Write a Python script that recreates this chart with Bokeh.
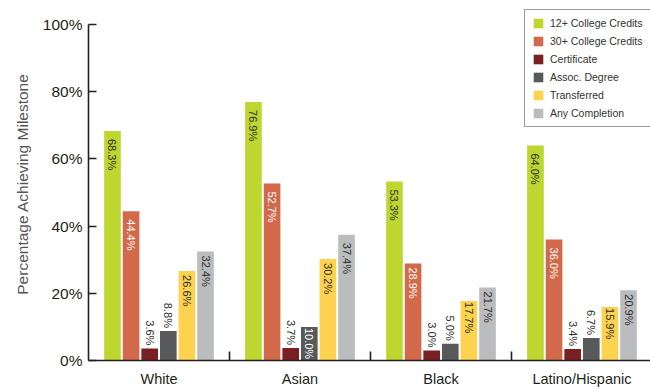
import math

from bokeh.core.properties import value
from bokeh.embed import file_html
from bokeh.models import ColumnDataSource, FixedTicker, PrintfTickFormatter
from bokeh.plotting import figure
from bokeh.resources import INLINE

# Milestone rates (percent) by group
groups = ["White", "Asian", "Black", "Latino/Hispanic"]
series = [
    "12+ College Credits",
    "30+ College Credits",
    "Certificate",
    "Assoc. Degree",
    "Transferred",
    "Any Completion",
]
credits_12 = [68.3, 76.9, 53.3, 64.0]
credits_30 = [44.4, 52.7, 28.9, 36.0]
certificate = [3.6, 3.7, 3.0, 3.4]
assoc_degree = [8.8, 10.0, 5.0, 6.7]
transferred = [26.6, 30.2, 17.7, 15.9]
any_completion = [32.4, 37.4, 21.7, 20.9]
y_ticks = [0, 20, 40, 60, 80, 100]

values = [credits_12, credits_30, certificate, assoc_degree, transferred, any_completion]
colors = ["#BED630", "#D2694A", "#7A1F24", "#58595B", "#FDD24F", "#BBBCBE"]
# colour of a value label printed inside its bar
inside_text = ["#2E2E2E", "#FFFFFF", "#FFFFFF", "#FFFFFF", "#2E2E2E", "#2E2E2E"]

FONT = "Liberation Sans"
INK = "#231F20"

pitch = 0.132
bar_w = 0.118

# a little headroom above 100% so the legend can sit higher than the axis top
p = figure(
    width=650,
    height=389,
    x_range=(0, 3.986),
    y_range=(0, 105.04),
    output_backend="svg",
    toolbar_location=None,
    min_border_left=88,
    min_border_right=0,
    min_border_top=7,
    min_border_bottom=28,
)
p.outline_line_color = None
p.xgrid.visible = False
p.ygrid.visible = False
p.background_fill_color = "white"
p.border_fill_color = "white"

inside = {"x": [], "y": [], "text": [], "color": [], "pad": []}
above = {"x": [], "y": [], "text": []}

for k, (name, vals, col) in enumerate(zip(series, values, colors)):
    xs = [i + 0.5 + (k - 2.5) * pitch for i in range(len(groups))]
    p.vbar(x=xs, top=vals, width=bar_w, fill_color=col, line_color=None,
           legend_label=name)
    for x, v in zip(xs, vals):
        label = f"{v:.1f}%"
        if v < 9.5:
            above["x"].append(x)
            above["y"].append(v)
            above["text"].append(label)
        else:
            inside["x"].append(x)
            inside["y"].append(v)
            inside["text"].append(label)
            inside["color"].append(inside_text[k])
            inside["pad"].append(8 if v >= 35 else (4 if v >= 20 else 1))

# value labels, rotated to read downwards
p.text(x="x", y="y", text="text", source=ColumnDataSource(inside),
       angle=-math.pi / 2, text_align="left", text_baseline="middle",
       y_offset="pad", text_color="color", text_font=value(FONT),
       text_font_size="11px")
p.text(x="x", y="y", text="text", source=ColumnDataSource(above),
       angle=-math.pi / 2, text_align="right", text_baseline="middle",
       y_offset=-3, text_color="#2E2E2E", text_font=value(FONT),
       text_font_size="11px")

# y axis
ya = p.yaxis[0]
ya.ticker = FixedTicker(ticks=y_ticks)
ya.bounds = (0, 100)
ya.formatter = PrintfTickFormatter(format="%d%%")
ya.axis_line_color = INK
ya.axis_line_width = 1.6
ya.major_tick_in = 8
ya.major_tick_out = 0
ya.major_tick_line_color = INK
ya.major_tick_line_width = 1.6
ya.minor_tick_line_color = None
ya.major_label_standoff = 6
ya.major_label_text_font = FONT
ya.major_label_text_font_size = "15.5px"
ya.major_label_text_color = INK
ya.axis_label = "Percentage Achieving Milestone"
ya.axis_label_text_font = FONT
ya.axis_label_text_font_size = "15.5px"
ya.axis_label_text_font_style = "normal"
ya.axis_label_text_color = "#555555"
ya.axis_label_standoff = 9

# x axis: group names centred, short separators between groups
xa = p.xaxis[0]
xa.ticker = FixedTicker(ticks=[i + 0.5 for i in range(len(groups))],
                        minor_ticks=list(range(1, len(groups) + 1)))
xa.major_label_overrides = {i + 0.5: g for i, g in enumerate(groups)}
xa.axis_line_color = INK
xa.axis_line_width = 1.6
xa.major_tick_line_color = None
xa.major_tick_in = 0
xa.major_tick_out = 0
xa.minor_tick_in = 9
xa.minor_tick_out = 0
xa.minor_tick_line_color = INK
xa.minor_tick_line_width = 1.6
xa.major_label_standoff = 10
xa.major_label_text_font = FONT
xa.major_label_text_font_size = "14.5px"
xa.major_label_text_color = INK

leg = p.legend[0]
leg.location = (436, 233)
leg.border_line_color = "#333333"
leg.border_line_width = 1.5
leg.background_fill_color = "white"
leg.background_fill_alpha = 1
leg.padding = 7
leg.margin = 0
leg.spacing = 6
leg.glyph_width = 12
leg.glyph_height = 12
leg.label_standoff = 6
leg.label_height = 12
leg.label_text_font = FONT
leg.label_text_font_size = "10.5px"
leg.label_text_color = "#333333"

open("out.html", "w").write(file_html(p, INLINE))
